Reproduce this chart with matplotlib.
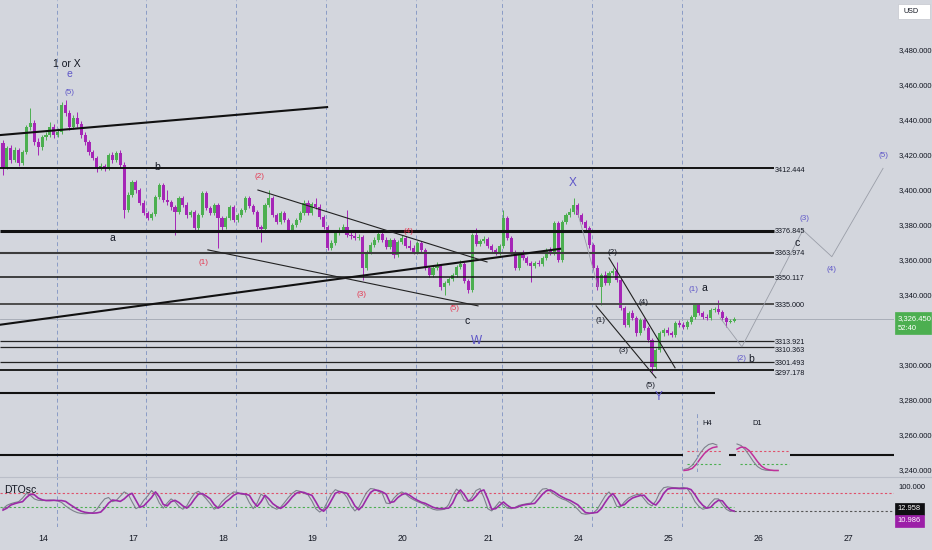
import numpy as np
import matplotlib.pyplot as plt
import matplotlib.transforms as mtransforms
from matplotlib.lines import Line2D
from matplotlib.patches import Rectangle

plt.rcParams['font.family'] = ['Liberation Sans', 'DejaVu Sans']

BG = '#d3d6dd'
BULL = '#4caf50'
BEAR = '#a526b6'
WAVE = '#5d55c8'
RED = '#e5364f'
INK = '#131722'

# XAUUSD 1H candles, 14th to 25th
opens = [3426.9, 3413.2, 3424.0, 3417.2, 3422.9, 3415.5, 3421.7, 3436.0, 3438.3, 3427.4,
         3424.6, 3430.3, 3431.5, 3436.0, 3431.5, 3433.2, 3448.6, 3444.0, 3436.0, 3441.1,
         3437.7, 3431.5, 3427.4, 3421.7, 3418.3, 3412.6, 3413.7, 3412.6, 3420.0, 3417.2,
         3421.2, 3414.3, 3388.6, 3397.2, 3404.6, 3400.0, 3392.6, 3386.9, 3384.1, 3386.3,
         3396.1, 3402.9, 3394.3, 3393.2, 3390.3, 3387.5, 3395.5, 3391.5, 3385.8, 3387.5,
         3378.4, 3385.8, 3398.3, 3389.8, 3386.9, 3391.5, 3384.1, 3378.9, 3384.1, 3390.3,
         3382.9, 3385.8, 3388.6, 3395.5, 3390.9, 3387.5, 3378.9, 3377.8, 3391.5, 3395.5,
         3385.8, 3381.8, 3386.9, 3382.9, 3377.2, 3380.1, 3382.9, 3386.9, 3392.6, 3386.9,
         3392.1, 3390.3, 3384.6, 3378.9, 3366.9, 3369.8, 3375.5, 3377.2, 3378.9, 3374.4,
         3373.8, 3372.6, 3373.2, 3355.5, 3364.7, 3368.7, 3371.5, 3374.9, 3371.5, 3367.5,
         3371.5, 3362.9, 3370.4, 3372.6, 3368.1, 3366.9, 3364.7, 3369.8, 3365.8, 3355.5,
         3351.5, 3355.5, 3356.7, 3344.7, 3347.0, 3349.2, 3351.5, 3356.1, 3357.8, 3348.1,
         3343.0, 3374.4, 3369.2, 3370.9, 3372.1, 3368.1, 3365.8, 3364.1, 3368.1, 3384.1,
         3372.6, 3364.7, 3355.5, 3362.9, 3361.2, 3358.4, 3356.7, 3358.4, 3357.8, 3361.2,
         3365.8, 3364.1, 3381.2, 3360.1, 3381.8, 3385.8, 3387.5, 3391.5, 3385.8, 3381.8,
         3378.4, 3368.7, 3355.5, 3344.7, 3351.5, 3347.0, 3352.7, 3353.8, 3348.7, 3332.7,
         3323.0, 3329.8, 3327.0, 3318.4, 3325.8, 3321.3, 3314.4, 3299.0, 3308.7, 3318.4,
         3320.1, 3318.4, 3317.3, 3324.1, 3323.0, 3321.8, 3324.7, 3327.6, 3334.4, 3329.8,
         3327.6, 3327.0, 3331.5, 3332.1, 3330.4, 3327.0, 3324.7, 3325.0]
highs = [3428.6, 3425.2, 3425.7, 3424.6, 3424.0, 3422.9, 3437.1, 3446.9, 3440.0, 3429.7,
         3431.5, 3433.2, 3438.9, 3437.7, 3435.4, 3450.3, 3451.4, 3445.7, 3442.9, 3444.6,
         3439.4, 3433.2, 3428.6, 3422.9, 3419.5, 3415.5, 3414.9, 3421.2, 3421.7, 3422.3,
         3422.9, 3416.0, 3398.9, 3405.8, 3405.8, 3401.2, 3394.3, 3388.1, 3387.5, 3397.2,
         3404.0, 3404.0, 3400.0, 3394.3, 3391.5, 3396.6, 3396.6, 3393.2, 3388.6, 3388.6,
         3386.9, 3399.4, 3399.4, 3390.9, 3392.6, 3392.6, 3385.2, 3385.2, 3391.5, 3391.5,
         3386.9, 3389.8, 3396.6, 3396.6, 3392.1, 3388.6, 3380.1, 3392.6, 3400.0, 3396.6,
         3386.9, 3388.1, 3388.1, 3384.1, 3381.2, 3384.1, 3388.1, 3394.3, 3394.3, 3393.2,
         3395.5, 3392.1, 3385.8, 3380.1, 3371.5, 3376.6, 3378.9, 3380.6, 3388.6, 3377.2,
         3376.1, 3374.9, 3374.4, 3365.8, 3370.4, 3373.2, 3376.6, 3376.6, 3373.2, 3372.6,
         3372.6, 3371.5, 3374.4, 3373.8, 3371.5, 3368.7, 3370.9, 3370.9, 3366.9, 3356.7,
         3356.7, 3358.9, 3357.8, 3348.1, 3350.4, 3352.7, 3357.2, 3360.1, 3358.9, 3349.2,
         3375.5, 3378.4, 3372.1, 3373.8, 3373.2, 3369.2, 3366.9, 3369.2, 3388.6, 3385.2,
         3373.8, 3365.8, 3364.1, 3365.8, 3362.4, 3359.5, 3359.5, 3360.1, 3362.4, 3366.9,
         3367.5, 3382.4, 3382.4, 3382.9, 3386.9, 3389.8, 3395.5, 3392.6, 3386.9, 3382.9,
         3379.5, 3369.8, 3357.2, 3352.7, 3353.8, 3353.8, 3355.5, 3358.9, 3349.8, 3333.8,
         3331.0, 3331.5, 3328.2, 3327.0, 3327.0, 3322.4, 3315.6, 3309.9, 3319.6, 3321.3,
         3321.8, 3319.6, 3325.3, 3325.8, 3324.7, 3325.8, 3328.7, 3335.5, 3335.5, 3331.0,
         3329.3, 3332.7, 3333.3, 3337.3, 3331.5, 3328.2, 3326.4, 3327.2]
lows = [3408.6, 3412.0, 3415.5, 3416.0, 3413.7, 3414.3, 3420.6, 3434.3, 3425.7, 3420.0,
        3422.9, 3428.6, 3430.3, 3429.7, 3430.3, 3432.0, 3442.3, 3434.3, 3434.9, 3436.0,
        3429.7, 3425.7, 3420.0, 3417.2, 3410.3, 3411.5, 3410.9, 3411.5, 3415.5, 3416.0,
        3413.2, 3384.1, 3387.5, 3396.1, 3398.3, 3391.5, 3385.8, 3382.9, 3382.9, 3385.2,
        3394.9, 3393.2, 3391.5, 3388.6, 3374.4, 3386.3, 3390.3, 3384.1, 3384.6, 3377.2,
        3377.2, 3384.6, 3388.6, 3385.8, 3385.8, 3366.9, 3377.2, 3377.8, 3382.9, 3381.8,
        3381.8, 3384.6, 3387.5, 3389.8, 3386.3, 3377.8, 3370.4, 3376.6, 3390.3, 3384.6,
        3380.6, 3380.6, 3381.8, 3376.1, 3376.1, 3378.9, 3381.8, 3385.8, 3385.8, 3385.8,
        3389.2, 3383.5, 3377.8, 3365.8, 3365.8, 3368.7, 3374.4, 3376.1, 3373.2, 3372.1,
        3371.5, 3371.5, 3348.7, 3354.4, 3363.5, 3367.5, 3370.4, 3370.4, 3366.4, 3366.4,
        3361.2, 3361.8, 3369.2, 3366.9, 3365.8, 3363.5, 3363.5, 3364.7, 3354.4, 3350.4,
        3350.4, 3354.4, 3343.0, 3340.1, 3345.8, 3348.1, 3350.4, 3354.9, 3347.0, 3341.3,
        3341.8, 3368.1, 3368.1, 3369.8, 3366.9, 3364.7, 3362.9, 3362.9, 3366.9, 3371.5,
        3363.5, 3354.4, 3354.4, 3360.1, 3357.2, 3347.5, 3355.5, 3356.7, 3356.7, 3360.1,
        3362.9, 3362.9, 3358.9, 3358.9, 3380.6, 3384.6, 3386.3, 3384.6, 3380.6, 3377.2,
        3366.9, 3354.4, 3343.0, 3334.4, 3345.8, 3345.8, 3351.5, 3347.5, 3331.5, 3321.8,
        3321.8, 3325.8, 3316.7, 3317.3, 3320.1, 3313.3, 3296.2, 3297.9, 3307.6, 3316.7,
        3317.3, 3316.1, 3316.1, 3321.8, 3320.7, 3320.7, 3323.6, 3326.4, 3328.7, 3326.4,
        3325.8, 3325.8, 3330.4, 3329.3, 3325.8, 3321.8, 3324.1, 3324.5]
closes = [3413.2, 3424.0, 3417.2, 3422.9, 3415.5, 3421.7, 3436.0, 3438.3, 3427.4, 3424.6,
          3430.3, 3431.5, 3436.0, 3431.5, 3433.2, 3448.6, 3444.0, 3436.0, 3441.1, 3437.7,
          3431.5, 3427.4, 3421.7, 3418.3, 3412.6, 3413.7, 3412.6, 3420.0, 3417.2, 3421.2,
          3414.3, 3388.6, 3397.2, 3404.6, 3400.0, 3392.6, 3386.9, 3384.1, 3386.3, 3396.1,
          3402.9, 3394.3, 3393.2, 3390.3, 3387.5, 3395.5, 3391.5, 3385.8, 3387.5, 3378.4,
          3385.8, 3398.3, 3389.8, 3386.9, 3391.5, 3384.1, 3378.9, 3384.1, 3390.3, 3382.9,
          3385.8, 3388.6, 3395.5, 3390.9, 3387.5, 3378.9, 3377.8, 3391.5, 3395.5, 3385.8,
          3381.8, 3386.9, 3382.9, 3377.2, 3380.1, 3382.9, 3386.9, 3392.6, 3386.9, 3392.1,
          3390.3, 3384.6, 3378.9, 3366.9, 3369.8, 3375.5, 3377.2, 3378.9, 3374.4, 3373.8,
          3372.6, 3373.2, 3355.5, 3364.7, 3368.7, 3371.5, 3374.9, 3371.5, 3367.5, 3371.5,
          3362.9, 3370.4, 3372.6, 3368.1, 3366.9, 3364.7, 3369.8, 3365.8, 3355.5, 3351.5,
          3355.5, 3356.7, 3344.7, 3347.0, 3349.2, 3351.5, 3356.1, 3357.8, 3348.1, 3343.0,
          3374.4, 3369.2, 3370.9, 3372.1, 3368.1, 3365.8, 3364.1, 3368.1, 3384.1, 3372.6,
          3364.7, 3355.5, 3362.9, 3361.2, 3358.4, 3356.7, 3358.4, 3357.8, 3361.2, 3365.8,
          3364.1, 3381.2, 3360.1, 3381.8, 3385.8, 3387.5, 3391.5, 3385.8, 3381.8, 3378.4,
          3368.7, 3355.5, 3344.7, 3351.5, 3347.0, 3352.7, 3353.8, 3348.7, 3332.7, 3323.0,
          3329.8, 3327.0, 3318.4, 3325.8, 3321.3, 3314.4, 3299.0, 3308.7, 3318.4, 3320.1,
          3318.4, 3317.3, 3324.1, 3323.0, 3321.8, 3324.7, 3327.6, 3334.4, 3329.8, 3327.6,
          3327.0, 3331.5, 3332.1, 3330.4, 3327.0, 3324.7, 3325.3, 3326.45]

# DTOsc (slow = magenta, fast = grey)
osc_slow = [15, 22, 33, 38, 42, 45, 60, 72, 70, 58, 52, 49, 49, 50, 49, 49, 46, 36, 27, 18,
            11, 7, 5, 4, 5, 8, 22, 40, 51, 49, 46, 55, 68, 75, 50, 25, 30, 45, 60, 80,
            62, 35, 30, 45, 50, 42, 30, 22, 35, 55, 72, 74, 65, 55, 35, 22, 30, 45, 55, 68,
            75, 74, 72, 68, 45, 28, 45, 68, 55, 38, 28, 21, 30, 45, 62, 75, 80, 78, 72, 68,
            45, 20, 11, 25, 50, 75, 81, 78, 75, 55, 30, 16, 30, 55, 78, 87, 85, 80, 72, 42,
            45, 60, 70, 75, 68, 58, 50, 43, 39, 32, 25, 21, 20, 21, 22, 40, 70, 87, 70, 48,
            50, 65, 82, 87, 55, 18, 20, 32, 44, 32, 23, 23, 28, 33, 35, 37, 39, 55, 72, 84,
            87, 80, 70, 62, 55, 50, 42, 34, 20, 6, 4, 5, 7, 20, 42, 62, 74, 55, 30, 35,
            48, 58, 63, 67, 68, 52, 40, 33, 50, 75, 90, 93, 93, 92, 92, 93, 88, 70, 48, 32,
            22, 25, 40, 50, 48, 30, 16, 10.986]
osc_fast = [20, 32, 38, 42, 45, 58, 75, 68, 55, 50, 49, 50, 51, 50, 48, 42, 30, 20, 12, 6,
            3, 2, 3, 6, 18, 38, 55, 60, 45, 50, 65, 80, 72, 45, 20, 28, 50, 65, 85, 70,
            40, 22, 40, 55, 45, 28, 18, 30, 55, 75, 82, 70, 55, 38, 18, 25, 45, 58, 70, 80,
            78, 72, 70, 42, 20, 40, 72, 62, 35, 25, 18, 25, 42, 60, 75, 85, 82, 75, 70, 48,
            20, 8, 18, 45, 72, 88, 82, 78, 60, 30, 12, 25, 52, 78, 92, 90, 82, 75, 40, 38,
            58, 72, 80, 72, 60, 52, 45, 40, 33, 25, 18, 15, 16, 18, 35, 68, 90, 78, 50, 45,
            62, 85, 92, 60, 20, 12, 28, 45, 35, 22, 20, 25, 32, 35, 38, 40, 55, 75, 90, 92,
            82, 72, 62, 55, 50, 42, 32, 18, 3, 0, 2, 5, 18, 42, 65, 80, 60, 28, 28, 45,
            58, 65, 70, 72, 55, 38, 30, 48, 78, 95, 98, 96, 95, 94, 96, 92, 72, 45, 28, 18,
            22, 40, 55, 55, 35, 18, 10, 12.958]

# bar index where each trading day starts, and the date labels
session_starts = [14, 37, 60, 83, 106, 128, 151, 174]
date_labels = ['14', '17', '18', '19', '20', '21', '24', '25', '26', '27']

# horizontal levels drawn on the chart
levels = [3412.444, 3376.845, 3363.974, 3350.117, 3335.000, 3313.921, 3310.363, 3301.493, 3297.178]
support_low = 3284.0
support_deep = 3248.6
last_price = 3326.45

# trendlines: (bar0, price0, bar1, price1)
thick_lines = [(-0.8, 3431.4, 82.9, 3447.4), (-0.8, 3323.0, 142.5, 3366.4)]
thin_lines = [(65.2, 3400.0, 123.8, 3358.9), (52.4, 3365.8, 121.5, 3333.8),
              (155.0, 3361.2, 171.9, 3298.4), (151.7, 3333.8, 167.0, 3292.7)]
path_bars = [183.4, 189.0, 204.6, 212.0, 225.1]
path_prices = [3327.0, 3310.4, 3377.1, 3361.9, 3412.4]
x_leg_bars = [146.8, 152.2]
x_leg_prices = [3388.6, 3344.7]

# wave labels: text, bar, price, kind
wave_labels = [
    ('1 or X', 16.4, 3472.0, 'big'), ('e', 17.1, 3466.5, 'wl'), ('(5)', 17.1, 3456.0, 'w'),
    ('b', 39.4, 3413.2, 'k'), ('a', 28.1, 3372.6, 'k'),
    ('(1)', 51.4, 3358.4, 'r'), ('(2)', 65.5, 3408.0, 'r'), ('(3)', 91.6, 3340.1, 'r'),
    ('(4)', 103.6, 3376.1, 'r'), ('(5)', 115.6, 3332.1, 'r'),
    ('c', 118.7, 3325.3, 'k'), ('W', 121.0, 3313.9, 'W'), ('X', 145.8, 3404.0, 'W'),
    ('(2)', 155.8, 3364.1, 'kp'), ('(1)', 152.9, 3325.3, 'kp'), ('(4)', 163.9, 3335.5, 'kp'),
    ('(3)', 158.8, 3308.1, 'kp'), ('(5)', 165.7, 3288.2, 'kp'), ('Y', 167.8, 3281.9, 'W'),
    ('(1)', 176.7, 3343.3, 'w'), ('a', 179.4, 3344.1, 'k'),
    ('(2)', 189.0, 3303.6, 'w'), ('b', 191.3, 3303.6, 'k'),
    ('(3)', 205.1, 3383.5, 'w'), ('c', 203.1, 3369.8, 'k'),
    ('(4)', 212.0, 3354.4, 'w'), ('(5)', 225.1, 3420.0, 'w'),
]

# small H4 / D1 oscillator snapshots
h4_fast = [4, 8, 20, 42, 68, 88, 100, 104, 98]
h4_slow = [0, 2, 8, 24, 46, 66, 80, 88, 91]
d1_fast = [102, 96, 80, 58, 34, 15, 5, 1, 0, 0, 0]
d1_slow = [82, 90, 88, 76, 56, 34, 16, 6, 2, 0, 0]

W, H = 932, 550


def rect(x0, y0, x1, y1):
    return [x0 / W, 1 - y1 / H, (x1 - x0) / W, (y1 - y0) / H]


fig = plt.figure(figsize=(9.32, 5.5), dpi=100, facecolor=BG)
ax = fig.add_axes(rect(0, 0, 894, 477))
osc = fig.add_axes(rect(0, 477, 894, 527), sharex=ax)

for a in (ax, osc):
    a.set_facecolor(BG)
    for s in a.spines.values():
        s.set_visible(False)
    for b in session_starts:
        a.axvline(b - 0.3, color='#8a9cc6', lw=0.7, ls=(0, (4, 3)), zorder=1)

ax.set_xlim(-0.77, 227.9)
ax.set_ylim(3236.0, 3508.6)
osc.set_ylim(-45.4, 133.2)

# candles
x = np.arange(len(closes))
o = np.array(opens)
c = np.array(closes)
up = c >= o
cols = np.where(up, BULL, BEAR)
ax.vlines(x, lows, highs, colors=cols, lw=0.7, zorder=2)
ax.bar(x, np.maximum(np.abs(c - o), 0.4), bottom=np.minimum(o, c), width=0.8,
       color=cols, linewidth=0, zorder=2.5)

# levels with their price tags
lw_list = [1.4, 2.2, 1.5, 1.1, 1.4, 0.9, 0.9, 0.9, 1.3]
col_list = ['#111111', '#111111', '#3c3c3c', '#151515', '#4d4d4d', '#222222', '#222222', '#222222', '#111111']
tag_drop = [2.5, 1.3, 0.5, 0.8, 1.6, 1.4, 3.6, 0.7, 3.3]
for lv, lw, cl, dy in zip(levels, lw_list, col_list, tag_drop):
    ax.hlines(lv, -0.8, 197.2, color=cl, lw=lw, zorder=3)
    tr = mtransforms.offset_copy(ax.transData, fig=fig, y=-dy, units='dots')
    ax.text(197.3, lv, f'{lv:.3f}', fontsize=5.2, color=INK, va='center', ha='left',
            zorder=4, transform=tr)
ax.hlines(support_low, -0.8, 182.1, color='#111111', lw=1.5, zorder=3)
ax.hlines(support_deep, -0.8, 228, color='#111111', lw=1.5, zorder=3)
ax.axhline(last_price, color='#a3a8b2', lw=0.6, zorder=1.5)

for b0, p0, b1, p1 in thick_lines:
    ax.plot([b0, b1], [p0, p1], color='#111111', lw=1.5, zorder=3)
for b0, p0, b1, p1 in thin_lines:
    ax.plot([b0, b1], [p0, p1], color='#222222', lw=0.8, zorder=3)
ax.plot(path_bars, path_prices, color='#9a9ea8', lw=0.6, zorder=3)
ax.plot(x_leg_bars, x_leg_prices, color='#9a9ea8', lw=0.6, zorder=3)

styles = {
    'big': dict(color=INK, fontsize=7.5),
    'wl': dict(color=WAVE, fontsize=7.5),
    'w': dict(color=WAVE, fontsize=5.8),
    'r': dict(color=RED, fontsize=5.8),
    'k': dict(color=INK, fontsize=7.5),
    'kp': dict(color=INK, fontsize=5.8),
    'W': dict(color=WAVE, fontsize=8.5),
}
for txt, b, p, kind in wave_labels:
    ax.text(b, p, txt, ha='center', va='center', zorder=5, **styles[kind])

# right price scale (3,320 sits under the live price tag)
ticks = [v for v in range(3240, 3481, 20) if v != 3320]
ax.yaxis.tick_right()
ax.set_yticks(ticks)
ax.set_yticklabels([f'{v:,.3f}' for v in ticks])
ax.tick_params(axis='y', length=0, pad=3.4, labelsize=5.5, labelcolor=INK)
ax.tick_params(axis='x', length=0, labelbottom=False)

# oscillator pane
ox = np.arange(len(osc_slow))
osc.axhline(75, color='#e0506a', lw=0.8, ls=(0, (2, 2)), zorder=2)
osc.hlines(25, -0.8, ox[-1], color='#4caf50', lw=0.8, ls=(0, (2, 2)), zorder=2)
osc.hlines(osc_fast[-1], ox[-1], 228, color='#555555', lw=0.8, ls=(0, (2, 2)), zorder=2)
osc.plot(ox, osc_fast, color='#7d818c', lw=0.8, zorder=3)
osc.plot(ox, osc_slow, color='#9c2aa8', lw=1.2, zorder=4)
osc.text(0.4, 85, 'DTOsc', fontsize=7.5, color=INK, va='center', ha='left', zorder=5)
osc.yaxis.tick_right()
osc.set_yticks([100])
osc.set_yticklabels(['100.000'])
osc.tick_params(axis='y', length=0, pad=3.4, labelsize=5.5, labelcolor=INK)
day_x = [b - 3.8 for b in session_starts] + [session_starts[-1] + 19.2, session_starts[-1] + 42.2]
osc.set_xticks(day_x)
osc.set_xticklabels(date_labels)
osc.tick_params(axis='x', length=0, pad=5, labelsize=6.3, labelcolor=INK)

# pane separator
fig.add_artist(Line2D([0, 1], [1 - 477 / H, 1 - 477 / H], color='#babec8', lw=0.8))


def box(x0, y0, x1, y1, fc, ec=None):
    fig.add_artist(Rectangle((x0 / W, 1 - y1 / H), (x1 - x0) / W, (y1 - y0) / H,
                             facecolor=fc, edgecolor=ec or fc, lw=0.5, transform=fig.transFigure))


box(898, 4, 930, 19, 'white', '#c4c7ce')
fig.text(904 / W, 1 - 11.5 / H, 'USD', fontsize=5.2, color=INK, va='center')
box(895, 312, 931, 334, '#4caf50')
fig.text(897.5 / W, 1 - 318.5 / H, f'{last_price:,.3f}', fontsize=5.5, color='white', va='center')
fig.text(897.5 / W, 1 - 328 / H, '52:40', fontsize=5.5, color='white', va='center')
box(895, 503, 924, 515, '#0f0f12')
fig.text(897 / W, 1 - 509 / H, f'{osc_fast[-1]:.3f}', fontsize=5.4, color='white', va='center')
box(895, 515, 924, 527, '#9c1fa8')
fig.text(897 / W, 1 - 521 / H, f'{osc_slow[-1]:.3f}', fontsize=5.4, color='white', va='center')

# H4 / D1 snapshots
h4 = fig.add_axes(rect(683, 412, 729, 472))
d1 = fig.add_axes(rect(736, 412, 790, 472))
snaps = ((h4, h4_fast, h4_slow, 'H4', 5.6, 0.7, 9.0, 46),
         (d1, d1_fast, d1_slow, 'D1', 4.9, 0.0, 12.6, 54))
for a, fast, slow, name, lx, g0, g1, wpx in snaps:
    a.set_facecolor(BG)
    a.set_zorder(5)
    a.set_xticks([])
    a.set_yticks([])
    for s in a.spines.values():
        s.set_visible(False)
    a.set_xlim(-0.25, wpx / 4.1 - 0.25)
    a.set_ylim(-5.8, 225)
    a.hlines(75, g0, g1, color='#e0506a', lw=0.8, ls=(0, (2, 2)))
    a.hlines(25, g0 + (0.7 if a is d1 else 0), g1, color='#4caf50', lw=0.8, ls=(0, (2, 2)))
    a.plot(range(len(fast)), fast, color='#7d818c', lw=0.8)
    a.plot(range(len(slow)), slow, color='#c0309a', lw=1.1)
    a.text(lx, 182, name, fontsize=5.4, color=INK, ha='center', va='center')
h4.axvline(3.2, color='#8a9cc6', lw=0.7, ls=(0, (4, 3)))

fig.savefig('out.png', dpi=100, facecolor=BG)
